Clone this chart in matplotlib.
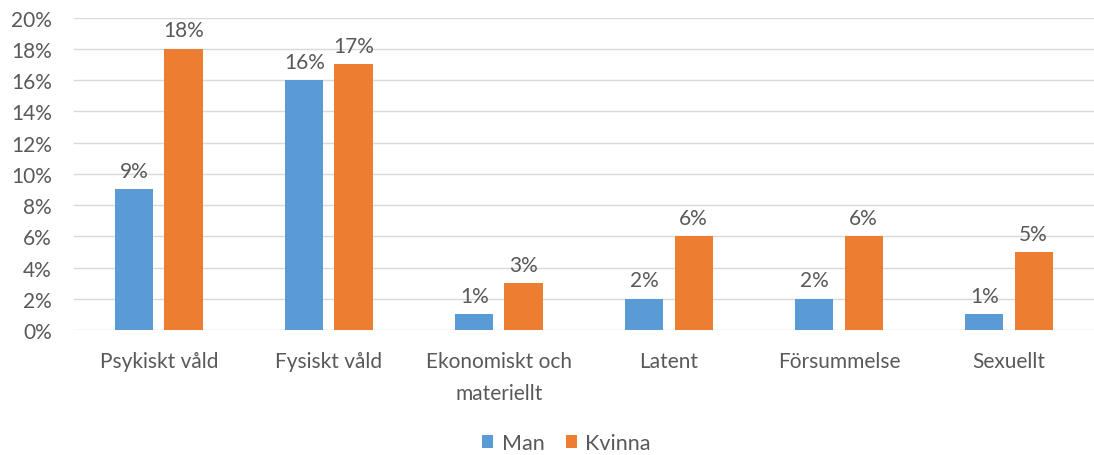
import numpy as np
import matplotlib
matplotlib.use("Agg")
import matplotlib.pyplot as plt
from matplotlib.ticker import PercentFormatter

kategorier = ["Psykiskt våld", "Fysiskt våld", "Ekonomiskt och\nmateriellt", "Latent", "Försummelse", "Sexuellt"]
man = [0.09, 0.16, 0.01, 0.02, 0.02, 0.01]
kvinna = [0.18, 0.17, 0.03, 0.06, 0.06, 0.05]

plt.rcParams['font.family'] = ['Lato', 'DejaVu Sans']
textfarg = "#595959"
fs = 15

fig = plt.figure(figsize=(10.94, 4.56), dpi=100)
ax = fig.add_axes([0.0676, 0.274, 0.9324, 0.6854])

x = np.arange(len(kategorier))
b = 0.224
d = 0.1445
s1 = ax.bar(x - d, man, b, color="#5B9BD5", label="Man", zorder=3)
s2 = ax.bar(x + d, kvinna, b, color="#ED7D31", label="Kvinna", zorder=3)

for s, vals in ((s1, man), (s2, kvinna)):
    ax.bar_label(s, labels=[f"{round(v*100)}%" for v in vals], padding=6,
                 fontsize=fs, color=textfarg)

ax.set_xlim(-0.5, len(kategorier) - 0.5)
ax.set_ylim(0, 0.20)
ax.set_yticks(np.arange(0, 0.201, 0.02))
ax.yaxis.set_major_formatter(PercentFormatter(1.0, decimals=0))
ax.grid(axis="y", color="#D9D9D9", linewidth=1, zorder=0)
for sp in ax.spines.values():
    sp.set_visible(False)
ax.tick_params(length=0, labelsize=fs, labelcolor=textfarg)
ax.tick_params(axis="y", pad=16)
ax.tick_params(axis="x", pad=15)
ax.set_xticks(x)
ax.set_xticklabels(kategorier, linespacing=1.75, va="top")

fig.legend(handles=[s1, s2], loc="center", bbox_to_anchor=(0.518, 0.026), ncol=2,
           frameon=False, fontsize=fs + 0.5, labelcolor=textfarg,
           handlelength=0.5, handleheight=0.5, handletextpad=0.4, columnspacing=1.0)

fig.savefig("out.png", dpi=100)
